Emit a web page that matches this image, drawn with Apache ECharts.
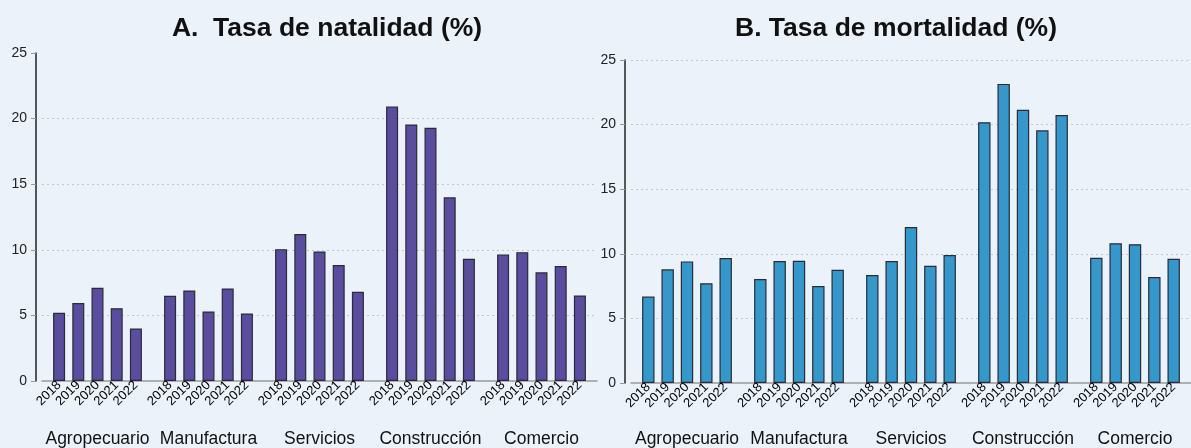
<!DOCTYPE html>
<html><head><meta charset="utf-8">
<script src="https://cdn.jsdelivr.net/npm/echarts@6/dist/echarts.min.js"></script>
<style>html,body{margin:0;padding:0;background:#ECF2FA;}#c{width:1191px;height:448px;}</style>
</head><body><div id="c"></div>
<script>
const sectors = ['Agropecuario','Manufactura','Servicios','Construcción','Comercio'];
const years = ['2018','2019','2020','2021','2022'];
const yTicks = [0,5,10,15,20,25];
// Tasa de natalidad (%) por sector, 2018..2022
const natAgro = [5.2, 5.95, 7.1, 5.55, 4.0];
const natManu = [6.5, 6.9, 5.3, 7.05, 5.15];
const natServ = [10.05, 11.2, 9.87, 8.84, 6.8];
const natCons = [20.93, 19.55, 19.3, 14.0, 9.32];
const natCome = [9.65, 9.82, 8.28, 8.76, 6.52];
// Tasa de mortalidad (%) por sector, 2018..2022
const morAgro = [6.69, 8.8, 9.41, 7.72, 9.67];
const morManu = [8.05, 9.44, 9.46, 7.51, 8.77];
const morServ = [8.36, 9.44, 12.07, 9.08, 9.9];
const morCons = [20.18, 23.15, 21.15, 19.56, 20.74];
const morCome = [9.69, 10.82, 10.74, 8.2, 9.62];

const natBySector = [natAgro, natManu, natServ, natCons, natCome];
const morBySector = [morAgro, morManu, morServ, morCons, morCome];

const FONT = 'Liberation Sans, Arial, sans-serif';
function mkSeries(bySector, idx, color, gap, bw) {
  return years.map((y, yi) => ({
    name: y, type: 'bar', xAxisIndex: idx, yAxisIndex: idx,
    barWidth: bw, barGap: gap,
    data: bySector.map(s => s[yi]),
    itemStyle: { color: color, borderColor: '#2b2b36', borderWidth: 1.2 },
    label: { show: true, position: 'bottom', distance: 2, rotate: 45, align: 'right', verticalAlign: 'middle',
      formatter: y, fontSize: 13, color: '#000', fontFamily: FONT },
    animation: false
  }));
}
function mkX(idx, margin) {
  return { type: 'category', gridIndex: idx, data: sectors,
    axisLine: { show: true, lineStyle: { color: '#999', width: 1.5 } },
    axisTick: { show: false },
    axisLabel: { margin: margin, fontSize: 17.5, color: '#111', fontFamily: FONT, interval: 0 } };
}
function mkY(idx, showTopLine) {
  return { type: 'value', gridIndex: idx, min: yTicks[0], max: yTicks[yTicks.length-1], interval: 5, offset: 6,
    axisLine: { show: true, lineStyle: { color: '#222', width: 1.5 } },
    axisTick: { show: true, length: 5, lineStyle: { color: '#999' } },
    axisLabel: { fontSize: 14, color: '#222', fontFamily: FONT, margin: 9 },
    splitLine: { show: true, showMaxLine: showTopLine, showMinLine: false, lineStyle: { color: '#c8c8c8', type: [2, 3], width: 1 } } };
}
const chart = echarts.init(document.getElementById('c'), null, { renderer: 'canvas' });
chart.setOption({
  backgroundColor: '#ECF2FA',
  animation: false,
  title: [
    { text: 'A.  Tasa de natalidad (%)', left: 322, top: 10, textAlign: 'center',
      textStyle: { fontSize: 26.5, fontWeight: 'bold', color: '#111', fontFamily: FONT } },
    { text: 'B. Tasa de mortalidad (%)', left: 891, top: 10, textAlign: 'center',
      textStyle: { fontSize: 26.5, fontWeight: 'bold', color: '#111', fontFamily: FONT } }
  ],
  grid: [
    { left: 42, right: 594, top: 53, bottom: 65 },
    { left: 631, right: -7, top: 60, bottom: 63 }
  ],
  xAxis: [mkX(0, 49), mkX(1, 47)],
  yAxis: [mkY(0, false), mkY(1, true)],
  series: [].concat(
    mkSeries(natBySector, 0, '#5A4C9E', '60%', 12),
    mkSeries(morBySector, 1, '#3399CC', '56%', 12.4)
  )
});
</script></body></html>
